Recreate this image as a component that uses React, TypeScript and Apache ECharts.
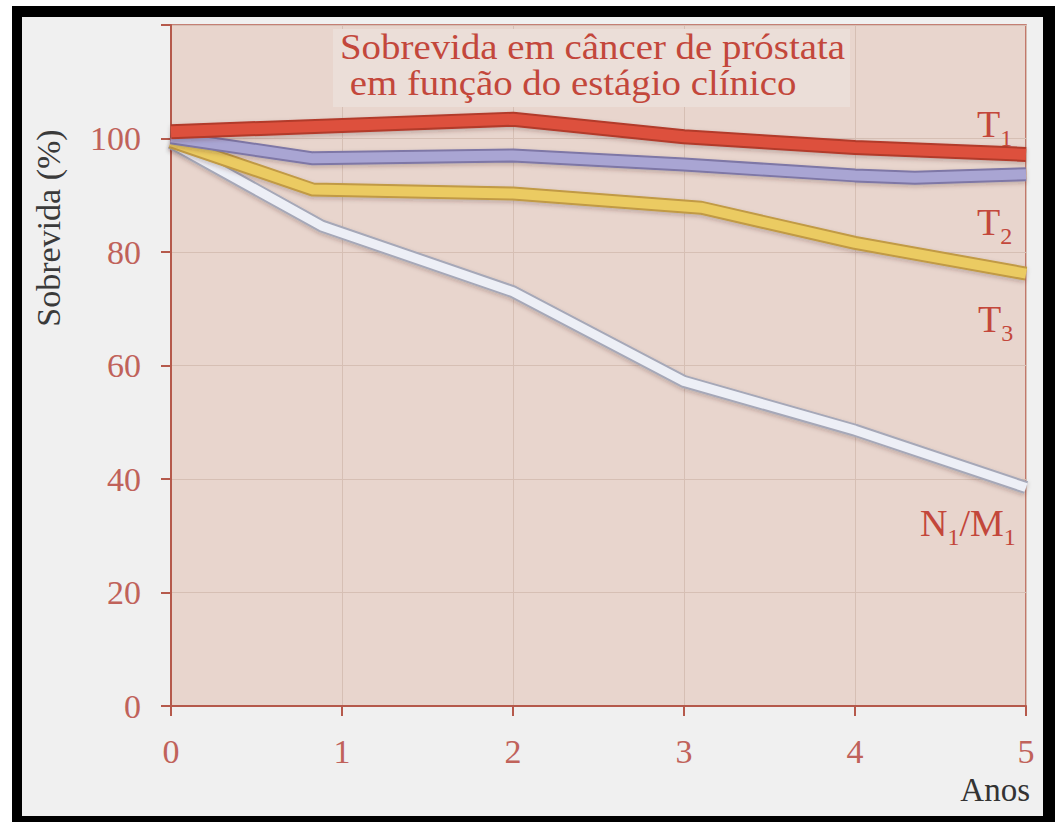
import React, { useEffect, useRef } from "react";
import * as echarts from "echarts";

// ---- data ----
const t1X = [0, 2, 3, 4, 5];
const t1Y = [101.2, 103.4, 100.3, 98.4, 97.2];

const t2X = [0, 0.83, 2, 3, 4, 4.35, 5];
const t2Y = [100.2, 96.5, 97, 95.4, 93.5, 93.1, 93.7];

const t3X = [0, 0.83, 2, 3.1, 4, 5];
const t3Y = [99.5, 91, 90.3, 87.8, 81.6, 76.2];

const nmX = [0, 0.88, 2, 3, 4, 5];
const nmY = [99.3, 84.6, 73, 57.2, 48.6, 38.5];

const yTicks = [0, 20, 40, 60, 80, 100];
const xTicks = [0, 1, 2, 3, 4, 5];

const titleLines = ["Sobrevida em câncer de próstata", "em função do estágio clínico"];
const yName = "Sobrevida (%)";
const xName = "Anos";

const SERIF = "'Liberation Serif', 'DejaVu Serif', serif";
const AXIS = "#b5594b";
const LABEL = "#c0625a";
const RED_TXT = "#c3473b";

const zip = (xs: number[], ys: number[]) => xs.map((x, i) => [x, ys[i]]);

function lineSeries(name: string, xs: number[], ys: number[], fill: string, edge: string, z: number, w: number) {
  const data = zip(xs, ys);
  return [
    {
      name: name + "-edge",
      type: "line",
      data,
      symbol: "none",
      z,
      silent: true,
      lineStyle: {
        color: edge,
        width: w + 4,
        cap: "butt",
        join: "round",
        shadowColor: "rgba(60,30,20,0.25)",
        shadowBlur: 4,
        shadowOffsetY: 2,
      },
    },
    {
      name,
      type: "line",
      data,
      symbol: "none",
      z: z + 1,
      silent: true,
      lineStyle: { color: fill, width: w, cap: "butt", join: "round" },
    },
  ];
}

// label with subscripts, drawn as one rich text
function subLabel(x: number, y: number, text: string) {
  return {
    type: "text",
    x,
    y,
    z: 20,
    style: {
      text,
      fill: RED_TXT,
      font: `38px ${SERIF}`,
      textAlign: "left",
      textVerticalAlign: "middle",
      rich: {
        b: { fontSize: 38, fontFamily: SERIF, fill: RED_TXT, color: RED_TXT },
        s: { fontSize: 24, fontFamily: SERIF, fill: RED_TXT, color: RED_TXT, padding: [28, 0, 0, 0] },
      },
    },
  };
}

export default function App() {
  const ref = useRef<HTMLDivElement>(null);

  useEffect(() => {
    if (!ref.current) return;
    const chart = echarts.init(ref.current, undefined, { renderer: "svg" });
    const option: any = {
      animation: false,
      backgroundColor: "transparent",
      grid: {
        left: 171,
        top: 25,
        width: 855,
        height: 681,
        show: true,
        backgroundColor: "#e8d5cd",
        borderColor: AXIS,
        borderWidth: 1.5,
      },
      xAxis: {
        type: "value",
        min: xTicks[0],
        max: xTicks[xTicks.length - 1],
        interval: 1,
        axisLine: { show: true, lineStyle: { color: AXIS, width: 2 } },
        axisTick: { show: true, length: 10, lineStyle: { color: AXIS, width: 2 } },
        axisLabel: {
          color: LABEL,
          fontSize: 34,
          fontFamily: SERIF,
          margin: 28,
          formatter: (v: number) => (xTicks.includes(v) ? String(v) : ""),
        },
        splitLine: { show: true, lineStyle: { color: "#d6bfb4", width: 1 } },
      },
      yAxis: {
        type: "value",
        min: 0,
        max: 120,
        interval: 20,
        axisLine: { show: true, lineStyle: { color: AXIS, width: 2 } },
        axisTick: { show: true, length: 10, lineStyle: { color: AXIS, width: 2 } },
        axisLabel: {
          color: LABEL,
          fontSize: 34,
          fontFamily: SERIF,
          margin: 30,
          formatter: (v: number) => (yTicks.includes(v) ? String(v) : ""),
        },
        splitLine: { show: true, lineStyle: { color: "#d6bfb4", width: 1 } },
      },
      series: [
        ...lineSeries("N1/M1", nmX, nmY, "#edeff6", "#a6a8b8", 2, 9),
        ...lineSeries("T3", t3X, t3Y, "#ebcb62", "#c19a45", 4, 10),
        ...lineSeries("T2", t2X, t2Y, "#a9a5d3", "#7e77a6", 6, 10),
        ...lineSeries("T1", t1X, t1Y, "#dd503d", "#b23a2c", 8, 11),
      ],
      graphic: [
        {
          type: "rect",
          z: 1,
          shape: { x: 333, y: 29, width: 517, height: 78 },
          style: { fill: "#ebded8" },
        },
        {
          type: "text",
          x: 340,
          y: 29,
          scaleX: 1.08,
          z: 20,
          style: {
            text: titleLines[0] + "\n " + titleLines[1],
            fill: RED_TXT,
            font: `36px ${SERIF}`,
            lineHeight: 36,
            textAlign: "left",
            textVerticalAlign: "top",
          },
        },
        {
          type: "text",
          x: 48,
          y: 228,
          rotation: Math.PI / 2,
          z: 20,
          style: {
            text: yName,
            fill: "#3a3a3a",
            font: `34px ${SERIF}`,
            textAlign: "center",
            textVerticalAlign: "middle",
          },
        },
        {
          type: "text",
          x: 1030,
          y: 790,
          z: 20,
          style: {
            text: xName,
            fill: "#333333",
            font: `33px ${SERIF}`,
            textAlign: "right",
            textVerticalAlign: "middle",
          },
        },
        subLabel(977, 124, "{b|T}{s|1}"),
        subLabel(977, 222, "{b|T}{s|2}"),
        subLabel(978, 319, "{b|T}{s|3}"),
        subLabel(920, 523, "{b|N}{s|1}{b|/M}{s|1}"),
      ],
    };
    chart.setOption(option);
    return () => chart.dispose();
  }, []);

  return (
    <div style={{ position: "absolute", left: 0, top: 0, width: 1055, height: 822, background: "#ffffff", overflow: "hidden" }}>
      <div style={{ position: "absolute", left: 12, top: 6, width: 1043, height: 816, background: "#000000" }} />
      <div style={{ position: "absolute", left: 22, top: 17, width: 1021, height: 799, background: "#f0f0f0" }} />
      <div ref={ref} style={{ position: "absolute", left: 0, top: 0, width: 1055, height: 822 }} />
    </div>
  );
}
